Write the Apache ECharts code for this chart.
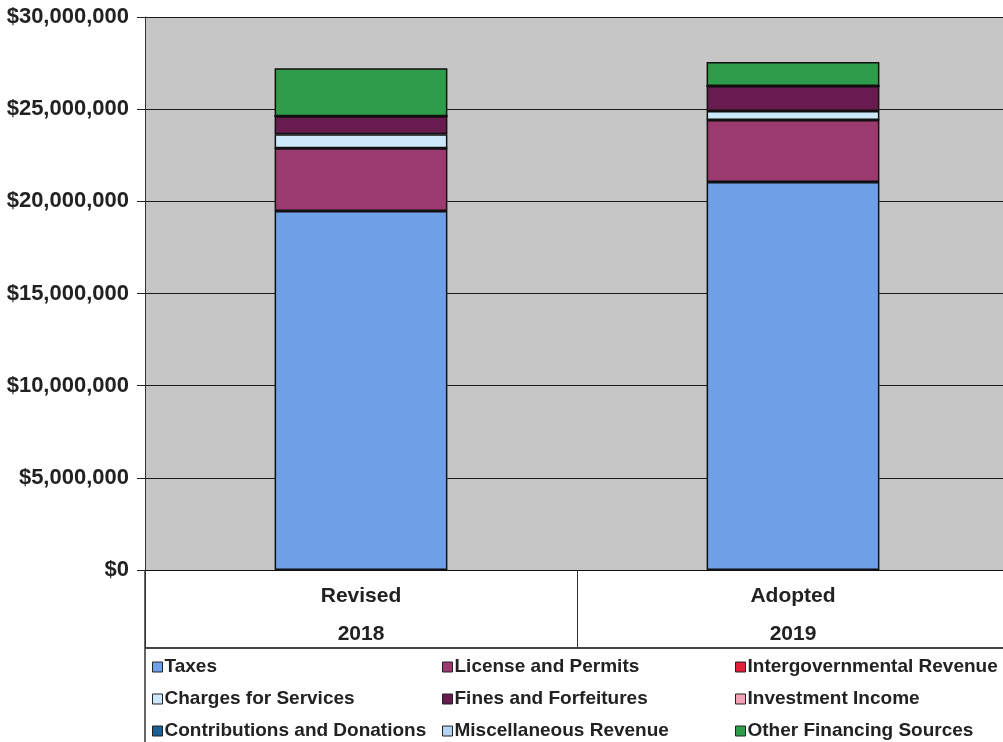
<!DOCTYPE html>
<html>
<head>
<meta charset="utf-8">
<script src="https://cdn.jsdelivr.net/npm/echarts@6/dist/echarts.min.js"></script>
<style>
  html, body { margin: 0; padding: 0; background: #fff; overflow: hidden; }
  /* plot runs past the right edge of the page in the original */
  #chart { width: 1009px; height: 742px; }
</style>
</head>
<body>
<div id="chart"></div>
<script>
// categories (two-line labels)
const categories = ['Revised\n2018', 'Adopted\n2019'];

// revenue by source, dollars
const taxes = [19480000, 21050000];
const licensePermits = [3400000, 3360000];
const intergovernmental = [0, 0];
const chargesServices = [760000, 490000];
const finesForfeitures = [980000, 1360000];
const investmentIncome = [0, 0];
const contributions = [0, 0];
const miscRevenue = [0, 0];
const otherFinancing = [2600000, 1300000];

const seriesDefs = [
    { name: 'Taxes', data: taxes, color: '#6f9fe6' },
    { name: 'License and Permits', data: licensePermits, color: '#9b3a6e' },
    { name: 'Intergovernmental Revenue', data: intergovernmental, color: '#e0203a' },
    { name: 'Charges for Services', data: chargesServices, color: '#cde8fb' },
    { name: 'Fines and Forfeitures', data: finesForfeitures, color: '#671b4f' },
    { name: 'Investment Income', data: investmentIncome, color: '#f4a3b4' },
    { name: 'Contributions and Donations', data: contributions, color: '#1d5f90' },
    { name: 'Miscellaneous Revenue', data: miscRevenue, color: '#b3d3f3' },
    { name: 'Other Financing Sources', data: otherFinancing, color: '#2e9c48' }
];

// legend laid out in three columns, read row by row
const legendCols = [
    ['Taxes', 'Charges for Services', 'Contributions and Donations'],
    ['License and Permits', 'Fines and Forfeitures', 'Miscellaneous Revenue'],
    ['Intergovernmental Revenue', 'Investment Income', 'Other Financing Sources']
];
const legendLeft = [152, 442, 735];

const font = 'Liberation Sans, Arial, sans-serif';
const chart = echarts.init(document.getElementById('chart'));

chart.setOption({
    animation: false,
    backgroundColor: '#ffffff',
    grid: {
        left: 145,
        right: 0,
        top: 17,
        bottom: 172,
        show: true,
        backgroundColor: '#c6c6c6',
        borderWidth: 0
    },
    legend: legendCols.map((names, i) => ({
        data: names,
        orient: 'vertical',
        left: legendLeft[i],
        top: 657,
        padding: 0,
        itemGap: 12,
        itemWidth: 10,
        itemHeight: 10,
        icon: 'rect',
        selectedMode: false,
        itemStyle: { borderColor: '#222', borderWidth: 1 },
        textStyle: {
            fontFamily: font,
            fontSize: 19,
            lineHeight: 20,
            fontWeight: 'bold',
            color: '#222',
            padding: [0, 0, 0, -3]
        }
    })),
    xAxis: {
        type: 'category',
        data: categories,
        axisLine: { lineStyle: { color: '#111', width: 1 } },
        axisTick: {
            show: true,
            length: 78,
            alignWithLabel: false,
            lineStyle: { color: '#333', width: 1 }
        },
        axisLabel: {
            margin: 7,
            fontFamily: font,
            fontSize: 21,
            fontWeight: 'bold',
            color: '#222',
            lineHeight: 38
        }
    },
    yAxis: {
        type: 'value',
        min: 0,
        max: 30000000,
        interval: 5000000,
        axisLine: { show: true, lineStyle: { color: '#333', width: 1 } },
        axisTick: { show: true, length: 8, lineStyle: { color: '#222' } },
        splitLine: { show: true, lineStyle: { color: '#1a1a1a', width: 1 } },
        axisLabel: {
            margin: 16,
            fontFamily: font,
            fontSize: 22,
            fontWeight: 'bold',
            color: '#222',
            formatter: v => '$' + v.toLocaleString('en-US')
        }
    },
    series: seriesDefs.map(s => ({
        name: s.name,
        type: 'bar',
        stack: 'total',
        data: s.data,
        barWidth: '40%',
        itemStyle: { color: s.color, borderColor: '#111', borderWidth: 1.5 }
    })),
    graphic: [
        {
            type: 'polyline',
            shape: { points: [[145, 570], [145, 742]] },
            style: { stroke: '#333', lineWidth: 1.5 }
        },
        {
            type: 'polyline',
            shape: { points: [[145, 648], [1009, 648]] },
            style: { stroke: '#444', lineWidth: 2 }
        }
    ]
});
</script>
</body>
</html>
